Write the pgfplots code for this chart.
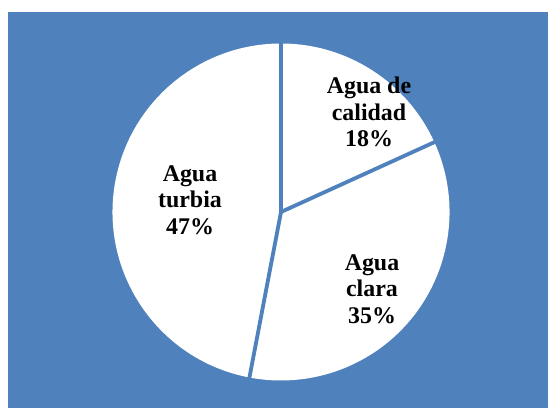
\documentclass[border=0pt]{standalone}
\usepackage{pgfplots}
\pgfplotsset{compat=1.18}
\usepackage{pgfplotstable}
\usepackage{fontspec}
\setmainfont{Liberation Serif}
\definecolor{bgblue}{HTML}{4F81BD}
\pgfplotstableread{
value lx ly
18.2 369 296
34.8 372 119
47.0 190 208
}\piedata
\begin{document}
\begin{tikzpicture}
\fill[white] (0,0) rectangle (548bp,408bp);
\fill[bgblue] (8bp,0) rectangle (548bp,396bp);
\begin{axis}[
  at={(0,0)}, anchor=south west,
  width=548bp, height=408bp, scale only axis,
  xmin=0, xmax=548, ymin=0, ymax=408,
  hide axis, clip=false,
]
\pgfplotsextra{
  \def\cx{281}\def\cy{196}\def\R{168.5}
  \def\acc{90}
  \pgfplotsforeachungrouped \i in {0,1,2}{
    \pgfplotstablegetelem{\i}{value}\of\piedata
    \pgfmathsetmacro\sweep{\pgfplotsretval*3.6}
    \pgfmathsetmacro\endang{\acc-\sweep}
    \fill[white] (axis cs:\cx,\cy) -- ++(\acc:\R bp) arc[start angle=\acc,end angle=\endang,radius=\R bp] -- cycle;
    \let\acc\endang
  }
  \def\acc{90}
  \pgfplotsforeachungrouped \i in {0,1,2}{
    \pgfplotstablegetelem{\i}{value}\of\piedata
    \pgfmathsetmacro\sweep{\pgfplotsretval*3.6}
    \pgfmathsetmacro\endang{\acc-\sweep}
    \draw[bgblue, line width=3.8bp] (axis cs:\cx,\cy) -- ++(\acc:\R bp+1bp);
    \let\acc\endang
  }
}
\begin{scope}[every node/.style={align=center, font=\fontsize{24}{26.8}\selectfont\bfseries, text=black}]
\node at (axis cs:369,296) {Agua de\\calidad\\18\%};
\node at (axis cs:372,119) {Agua\\clara\\35\%};
\node at (axis cs:190,208) {Agua\\turbia\\47\%};
\end{scope}
\end{axis}
\end{tikzpicture}
\end{document}
